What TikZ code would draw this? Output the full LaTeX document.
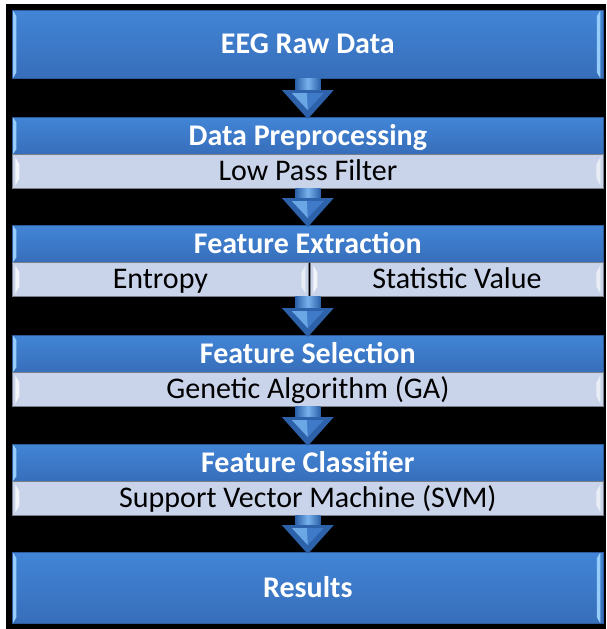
\documentclass[tikz,border=0pt]{standalone}
\usepackage{fontspec}
\setmainfont{Carlito}
\usetikzlibrary{calc}
\definecolor{blueTop}{RGB}{66,133,214}
\definecolor{blueBot}{RGB}{55,110,186}
\definecolor{blueEdge}{RGB}{45,90,155}
\definecolor{blueHi}{RGB}{150,205,250}
\definecolor{subFill}{RGB}{201,212,234}
\definecolor{subEdge}{RGB}{120,126,138}
\definecolor{arrDark}{RGB}{45,98,170}
\definecolor{arrMid}{RGB}{62,122,200}
\definecolor{arrLight}{RGB}{120,178,236}
\tikzset{
  boxbase/.style={anchor=north west, inner sep=0pt, minimum width=591pt,
    text height=21pt, text depth=2pt},
  headbox/.style={boxbase, draw=blueEdge, line width=0.6pt, top color=blueTop,
    bottom color=blueBot, text=white, font=\bfseries\fontsize{30}{30}\selectfont,
    minimum height=37pt,
    path picture={
      \fill[blueHi] ([xshift=0.6pt]path picture bounding box.north west)
        -- ++(3.5pt,-5pt) -- ([xshift=4.1pt,yshift=5pt]path picture bounding box.south west)
        -- ([xshift=0.6pt]path picture bounding box.south west) -- cycle;}},
  bigbox/.style={boxbase, draw=blueEdge, line width=0.6pt, top color=blueTop,
    bottom color=blueBot, text=white, font=\bfseries\fontsize{30}{30}\selectfont,
    path picture={
      \fill[blueHi] ([xshift=0.6pt]path picture bounding box.north west)
        -- ++(3.5pt,-6pt) -- ([xshift=4.1pt,yshift=6pt]path picture bounding box.south west)
        -- ([xshift=0.6pt]path picture bounding box.south west) -- cycle;
      \fill[blueHi] ([xshift=-3pt]path picture bounding box.north east)
        -- ++(-3.5pt,-6pt) -- ([xshift=-6.5pt,yshift=6pt]path picture bounding box.south east)
        -- ([xshift=-3pt]path picture bounding box.south east) -- cycle;}},
  subbox/.style={boxbase, draw=subEdge, line width=0.8pt, fill=subFill,
    text=black, font=\fontsize{30}{30}\selectfont, minimum height=34pt,
    path picture={
      \fill[white, opacity=0.75] ([xshift=3pt,yshift=-3pt]path picture bounding box.north west)
        -- ++(4pt,-7pt) -- ([xshift=7pt,yshift=10pt]path picture bounding box.south west)
        -- ([xshift=3pt,yshift=3pt]path picture bounding box.south west) -- cycle;
      \fill[white, opacity=0.6] ([xshift=-3pt,yshift=-3pt]path picture bounding box.north east)
        -- ++(-4pt,-7pt) -- ([xshift=-7pt,yshift=10pt]path picture bounding box.south east)
        -- ([xshift=-3pt,yshift=3pt]path picture bounding box.south east) -- cycle;}},
  arrowshaft/.style={left color=arrDark, right color=arrDark, middle color=arrLight},
  arrowhead/.style={fill=arrDark},
  arrowbevel/.style={fill=arrMid},
  arrowlight/.style={fill=arrLight!80!arrMid},
}
\newcommand\flowarrow[2]{%
  \path[arrowshaft] ($(#1)+(-12.5,0)$) rectangle ($(#2)+(12.5,-27)$);
  \path[arrowhead] ($(#2)+(-26,-27)$) -- ($(#2)+(26,-27)$) -- ($(#2)+(0,2)$) -- cycle;
  \path[arrowbevel] ($(#2)+(-16,-24)$) -- ($(#2)+(16,-24)$) -- ($(#2)+(0,-7)$) -- cycle;
  \path[arrowlight] ($(#2)+(-16,-24)$) -- ($(#2)+(-1,-24)$) -- ($(#2)+(0,-7)$) -- cycle;
}
\begin{document}
\begin{tikzpicture}[x=1pt,y=-1pt]
\useasboundingbox (0,0) rectangle (606,629);
\fill[white] (0,0) rectangle (606,629);
\fill[black] (6,4) rectangle (606,629);

\node[bigbox, minimum height=68pt] (raw) at (12,10) {EEG Raw Data};
\node[headbox] (pre) at (12,117) {Data Preprocessing};
\node[subbox] (lpf) at (12,154) {Low Pass Filter};
\node[headbox] (fe) at (12,225) {Feature Extraction};
\node[subbox, minimum width=296pt] (ent) at (12,262) {Entropy};
\node[subbox, minimum width=293pt] (stat) at (310,262) {Statistic Value};
\node[headbox] (fs) at (12,335) {Feature Selection};
\node[subbox] (ga) at (12,372) {Genetic Algorithm (GA)};
\node[headbox] (fc) at (12,444) {Feature Classifier};
\node[subbox] (svm) at (12,481) {Support Vector Machine (SVM)};
\node[bigbox, minimum height=71pt] (res) at (12,552) {Results};

\coordinate (femid) at (fe.south |- ent.south);
\flowarrow{raw.south}{pre.north}
\flowarrow{lpf.south}{fe.north}
\flowarrow{femid}{fs.north}
\flowarrow{ga.south}{fc.north}
\flowarrow{svm.south}{res.north}
\end{tikzpicture}
\end{document}
